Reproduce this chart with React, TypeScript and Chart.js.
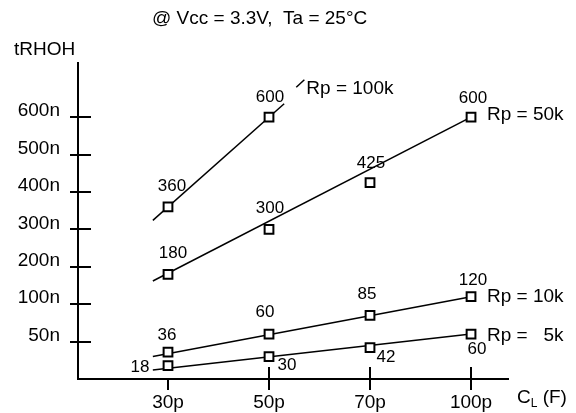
import React, { useEffect, useRef } from 'react';
import { Chart, registerables } from 'chart.js';

Chart.register(...registerables);

// ---- data ----
const categories = ['30p', '50p', '70p', '100p'];
const rp100kValues = [360, 600];
const rp50kValues = [180, 300, 425, 600];
const rp10kValues = [36, 60, 85, 120];
const rp5kValues = [18, 30, 42, 60];
const yTickValues = [50, 100, 200, 300, 400, 500, 600];
const yTickLabels = ['50n', '100n', '200n', '300n', '400n', '500n', '600n'];

// straight lines drawn in the figure (category position, value)
const trend100kX = [-0.15, 1.15];
const trend100kY = [324, 636];
const leader100kX = [1.27, 1.35];
const leader100kY = [680, 700];
const trend50kX = [-0.15, 3];
const trend50kY = [162, 600];
const trend10kX = [-0.15, 3];
const trend10kY = [30, 120];
const trend5kX = [-0.15, 3];
const trend5kY = [12, 60];

const titleText = '@ Vcc = 3.3V,  Ta = 25°C';
const yAxisTitle = 'tRHOH';

// the vertical axis of the figure: 50-unit steps up to 100, then 100-unit steps
function toLevel(v: number): number {
  if (v <= 50) return v / 50;
  if (v <= 100) return 1 + (v - 50) / 50;
  return 2 + (v - 100) / 100;
}

const FONT = '"Liberation Sans", Arial, Helvetica, sans-serif';

export default function App() {
  const ref = useRef<HTMLCanvasElement>(null);

  useEffect(() => {
    const canvas = ref.current;
    if (!canvas) return;

    const squares = (values: number[], offsets: number[][], seriesLabel: string | null, seriesOffset: number[] | null) => ({
      type: 'scatter',
      data: values.map((v, i) => ({ x: i, y: toLevel(v) })),
      pointStyle: 'rect',
      pointRadius: 6.2,
      pointBorderWidth: 2,
      borderWidth: 2,
      pointBorderColor: '#000',
      pointBackgroundColor: '#fff',
      borderColor: '#000',
      backgroundColor: '#fff',
      showLine: false,
      order: 0,
      valueLabels: values.map(String),
      labelOffsets: offsets,
      seriesLabel,
      seriesOffset,
    });

    const line = (xs: number[], ys: number[], seriesLabel: string | null = null, seriesOffset: number[] | null = null) => ({
      type: 'scatter',
      data: xs.map((x, i) => ({ x, y: toLevel(ys[i]) })),
      showLine: true,
      pointRadius: 0,
      borderWidth: 1.5,
      borderColor: '#000',
      backgroundColor: '#000',
      fill: false,
      order: 1,
      seriesLabel,
      seriesOffset,
    });

    const annotPlugin = {
      id: 'annot',
      beforeDatasetsDraw(chart: any) {
        const { ctx, chartArea, scales } = chart;
        ctx.save();
        ctx.strokeStyle = '#000';
        ctx.lineWidth = 2;
        yTickValues.forEach((v) => {
          const y = Math.round(scales.y.getPixelForValue(toLevel(v)));
          ctx.beginPath();
          ctx.moveTo(chartArea.left, y);
          ctx.lineTo(chartArea.left + 13, y);
          ctx.stroke();
        });
        categories.forEach((_, i) => {
          if (i === 0) return;
          const x = Math.round(scales.x.getPixelForValue(i));
          ctx.beginPath();
          ctx.moveTo(x, chartArea.bottom);
          ctx.lineTo(x, chartArea.bottom - 12);
          ctx.stroke();
        });
        ctx.restore();
      },
      afterDatasetsDraw(chart: any) {
        const { ctx } = chart;
        ctx.save();
        ctx.fillStyle = '#000';
        // value labels beside the squares
        chart.data.datasets.forEach((ds: any, di: number) => {
          const meta = chart.getDatasetMeta(di);
          if (ds.valueLabels) {
            ctx.font = `17px ${FONT}`;
            ctx.textAlign = 'center';
            ctx.textBaseline = 'middle';
            meta.data.forEach((pt: any, i: number) => {
              const off = ds.labelOffsets[i];
              ctx.fillText(ds.valueLabels[i], pt.x + off[0], pt.y + off[1]);
            });
          }
          if (ds.seriesLabel) {
            const last = meta.data[meta.data.length - 1];
            ctx.font = `19px ${FONT}`;
            ctx.textAlign = 'left';
            ctx.textBaseline = 'middle';
            ctx.fillText(ds.seriesLabel, last.x + ds.seriesOffset[0], last.y + ds.seriesOffset[1]);
          }
        });
        // title and axis titles
        ctx.font = `19px ${FONT}`;
        ctx.textAlign = 'left';
        ctx.textBaseline = 'alphabetic';
        ctx.fillText(titleText, 152, 24);
        ctx.fillText(yAxisTitle, 14, 55);
        const cx = 517;
        ctx.fillText('C', cx, 403);
        const cw = ctx.measureText('C').width;
        ctx.font = `12px ${FONT}`;
        ctx.fillText('L', cx + cw, 407);
        const lw = ctx.measureText('L').width;
        ctx.font = `19px ${FONT}`;
        ctx.fillText(' (F)', cx + cw + lw, 403);
        ctx.restore();
      },
    };

    const chart = new Chart(canvas, {
      type: 'scatter',
      data: {
        datasets: [
          squares(rp100kValues, [[4, -21], [1, -20]], null, null),
          squares(rp50kValues, [[5, -21], [1, -21], [1, -19], [2, -19]], 'Rp = 50k', [16, -2]),
          squares(rp10kValues, [[-1, -17], [-4, -22], [-3, -21], [2, -16]], 'Rp = 10k', [16, 0]),
          squares(rp5kValues, [[-28, 2], [18, 9], [16, 10], [6, 15]], 'Rp =   5k', [16, 2]),
          line(trend100kX, trend100kY),
          line(leader100kX, leader100kY, 'Rp = 100k', [2, 9]),
          line(trend50kX, trend50kY),
          line(trend10kX, trend10kY),
          line(trend5kX, trend5kY),
        ] as any,
      },
      options: {
        responsive: false,
        maintainAspectRatio: false,
        animation: false,
        devicePixelRatio: 1,
        events: [],
        layout: { padding: { top: 63, right: 68, left: 0, bottom: 0 } },
        plugins: {
          legend: { display: false },
          tooltip: { enabled: false },
          title: { display: false },
        },
        scales: {
          x: {
            type: 'linear',
            min: -0.891,
            max: 3.366,
            afterFit: (s: any) => { s.height = 34; },
            afterBuildTicks: (s: any) => { s.ticks = categories.map((_, i) => ({ value: i })); },
            ticks: {
              callback: (_v: any, i: number) => categories[i],
              autoSkip: false,
              maxRotation: 0,
              padding: 1,
              color: '#000',
              font: { family: FONT, size: 19 },
            },
            grid: { drawOnChartArea: false, drawTicks: true, tickLength: 11, color: '#000', lineWidth: 2 },
            border: { display: true, color: '#000', width: 2 },
          },
          y: {
            type: 'linear',
            min: 0,
            max: 8.449,
            afterFit: (s: any) => { s.width = 78; },
            afterBuildTicks: (s: any) => { s.ticks = yTickValues.map((v) => ({ value: toLevel(v) })); },
            ticks: {
              callback: (_v: any, i: number) => yTickLabels[i],
              autoSkip: false,
              padding: 10,
              labelOffset: -6,
              color: '#000',
              font: { family: FONT, size: 19 },
            },
            grid: { drawOnChartArea: false, drawTicks: true, tickLength: 8, color: '#000', lineWidth: 2 },
            border: { display: true, color: '#000', width: 2 },
          },
        },
      } as any,
      plugins: [annotPlugin],
    });

    return () => chart.destroy();
  }, []);

  return (
    <div style={{ position: 'fixed', left: 0, top: 0, width: 576, height: 413, background: '#fff' }}>
      <canvas ref={ref} width={576} height={413} style={{ display: 'block', width: 576, height: 413 }} />
    </div>
  );
}
